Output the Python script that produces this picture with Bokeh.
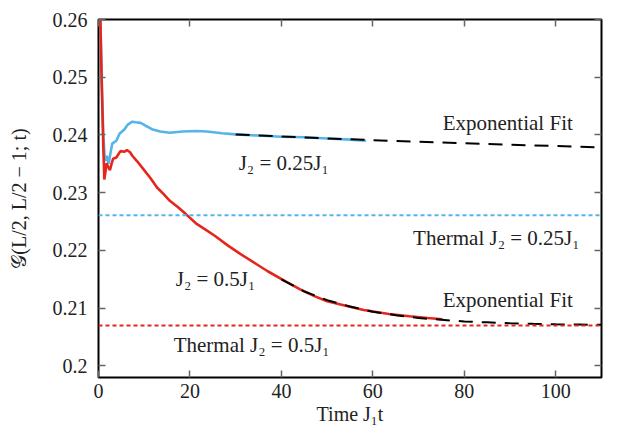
from bokeh.plotting import figure
from bokeh.models import Range1d, LinearAxis, FixedTicker, Span, ColumnDataSource
from bokeh.core.properties import value
from bokeh.embed import file_html
from bokeh.resources import INLINE

# ---- data ----
t_red = [0, 0.35, 0.7, 1.05, 1.27, 1.5, 1.77, 2.1, 2.5, 2.85, 3.2, 3.9, 4.8, 5.7,
         6.2, 6.9, 7.4, 8.5, 9.9, 11.3, 12.8, 14.2, 15.6, 17.4, 19.1, 21.3, 23.4,
         25.5, 28.4, 31, 34.4, 37, 40.8, 44, 47.2, 50, 54.3, 58, 63.5, 68, 72, 75.2]
g_red = [0.29, 0.262, 0.249, 0.238, 0.2323, 0.2335, 0.2351, 0.2345, 0.2339, 0.2350,
         0.2359, 0.2361, 0.2372, 0.2371, 0.2374, 0.2370, 0.2364, 0.2354, 0.2340,
         0.2326, 0.2309, 0.2298, 0.2286, 0.2275, 0.2263, 0.2247, 0.2236, 0.2225,
         0.2208, 0.2194, 0.2177, 0.2164, 0.2147, 0.2133, 0.2121, 0.2112, 0.2104,
         0.2097, 0.2090, 0.2086, 0.2083, 0.2081]

t_blue = [0, 0.35, 0.7, 1.05, 1.4, 1.8, 2.2, 2.6, 3.0, 3.9, 4.6, 5.7, 6.4, 7.4, 8.1,
          9.2, 10.3, 11.7, 13.5, 15.6, 18.4, 21.3, 23.7, 27, 30, 35, 40, 45, 50, 55, 58.5]
g_blue = [0.29, 0.262, 0.250, 0.240, 0.2355, 0.2364, 0.2350, 0.2368, 0.2385, 0.2390,
          0.2402, 0.2410, 0.2418, 0.2423, 0.2422, 0.2421, 0.2416, 0.2410, 0.2406,
          0.2404, 0.2406, 0.2407, 0.2406, 0.2403, 0.2401, 0.2399, 0.2397, 0.2396,
          0.2394, 0.2392, 0.2390]

t_fit_blue = [30, 40, 50, 60, 70, 80, 90, 100, 110]
g_fit_blue = [0.2401, 0.23975, 0.2394, 0.2391, 0.23883, 0.23857, 0.23832, 0.23808, 0.23785]

t_fit_red = [40, 45, 50, 55, 60, 65, 70, 75, 80, 85, 90, 95, 100, 105, 110]
g_fit_red = [0.2150, 0.2129, 0.2114, 0.2103, 0.2094, 0.2088, 0.2083, 0.2080, 0.2077,
             0.20755, 0.2074, 0.2073, 0.20722, 0.20717, 0.20712]

thermal_blue = 0.2261
thermal_red = 0.2070

x_ticks = [0, 20, 40, 60, 80, 100]
y_ticks = [0.20, 0.21, 0.22, 0.23, 0.24, 0.25, 0.26]
y_tick_labels = ["0.2", "0.21", "0.22", "0.23", "0.24", "0.25", "0.26"]

label_texts = ["Exponential Fit", "J₂ = 0.25J₁", "Thermal J₂ = 0.25J₁",
               "J₂ = 0.5J₁", "Exponential Fit", "Thermal J₂ = 0.5J₁"]

# ---- styles ----
RED = "#E5261C"
BLUE = "#56B4E9"
FONT = "Liberation Serif"

p = figure(width=603, height=427, output_backend="svg", toolbar_location=None,
           x_range=Range1d(0, 110), y_range=Range1d(0.198, 0.26),
           min_border_left=98, min_border_right=2, min_border_top=19, min_border_bottom=0)
p.background_fill_color = "white"
p.border_fill_color = "white"
p.outline_line_color = "black"
p.outline_line_width = 2
p.grid.visible = False

p.add_layout(Span(location=thermal_blue, dimension="width", line_color=BLUE,
                  line_width=2, line_dash="4 3"))
p.add_layout(Span(location=thermal_red, dimension="width", line_color=RED,
                  line_width=2, line_dash="4 3"))

p.line(t_blue, g_blue, line_color=BLUE, line_width=2.6)
p.line(t_red, g_red, line_color=RED, line_width=2.6)
p.line(t_fit_blue, g_fit_blue, line_color="black", line_width=2, line_dash="14 9")
p.line(t_fit_red, g_fit_red, line_color="black", line_width=2, line_dash="14 9")

lab = ColumnDataSource(dict(
    x=[89.5, 40.5, 87.0, 25.6, 89.5, 33.5],
    y=[0.2421, 0.2351, 0.2222, 0.2151, 0.2114, 0.2037],
    text=label_texts))
p.text(x="x", y="y", text="text", source=lab, text_font=value(FONT),
       text_font_size="21px", text_align="center", text_baseline="middle",
       text_color="#222222")

def style_axis(ax, show_labels):
    ax.axis_line_color = None
    ax.major_tick_in = 7
    ax.major_tick_out = 0
    ax.minor_tick_line_color = None
    ax.major_tick_line_color = "#666666"
    ax.major_tick_line_width = 1.5
    ax.major_label_text_font = FONT
    ax.major_label_text_color = "#222222"
    ax.major_label_text_font_size = "20px"
    if not show_labels:
        ax.major_label_overrides = {v: "" for v in ax.ticker.ticks}
        ax.major_label_standoff = 0
        ax.major_label_text_font_size = "1px"

xa = p.xaxis[0]
ya = p.yaxis[0]
xa.ticker = FixedTicker(ticks=x_ticks)
ya.ticker = FixedTicker(ticks=y_ticks)
style_axis(xa, True)
style_axis(ya, True)
ya.major_label_overrides = {v: s for v, s in zip(y_ticks, y_tick_labels)}
xa.major_label_standoff = 6
ya.major_label_standoff = 11
xa.axis_label = "Time J₁t"
ya.axis_label = "𝒢(L/2, L/2 − 1; t)"
for ax in (xa, ya):
    ax.axis_label_text_font = FONT
    ax.axis_label_text_font_size = "20px"
    ax.axis_label_text_font_style = "normal"
    ax.axis_label_text_color = "#222222"
xa.axis_label_standoff = 2
ya.axis_label_standoff = 20

top = LinearAxis(ticker=FixedTicker(ticks=x_ticks))
right = LinearAxis(ticker=FixedTicker(ticks=y_ticks))
style_axis(top, False)
style_axis(right, False)
p.add_layout(top, "above")
p.add_layout(right, "right")

open("out.html", "w").write(file_html(p, INLINE))
